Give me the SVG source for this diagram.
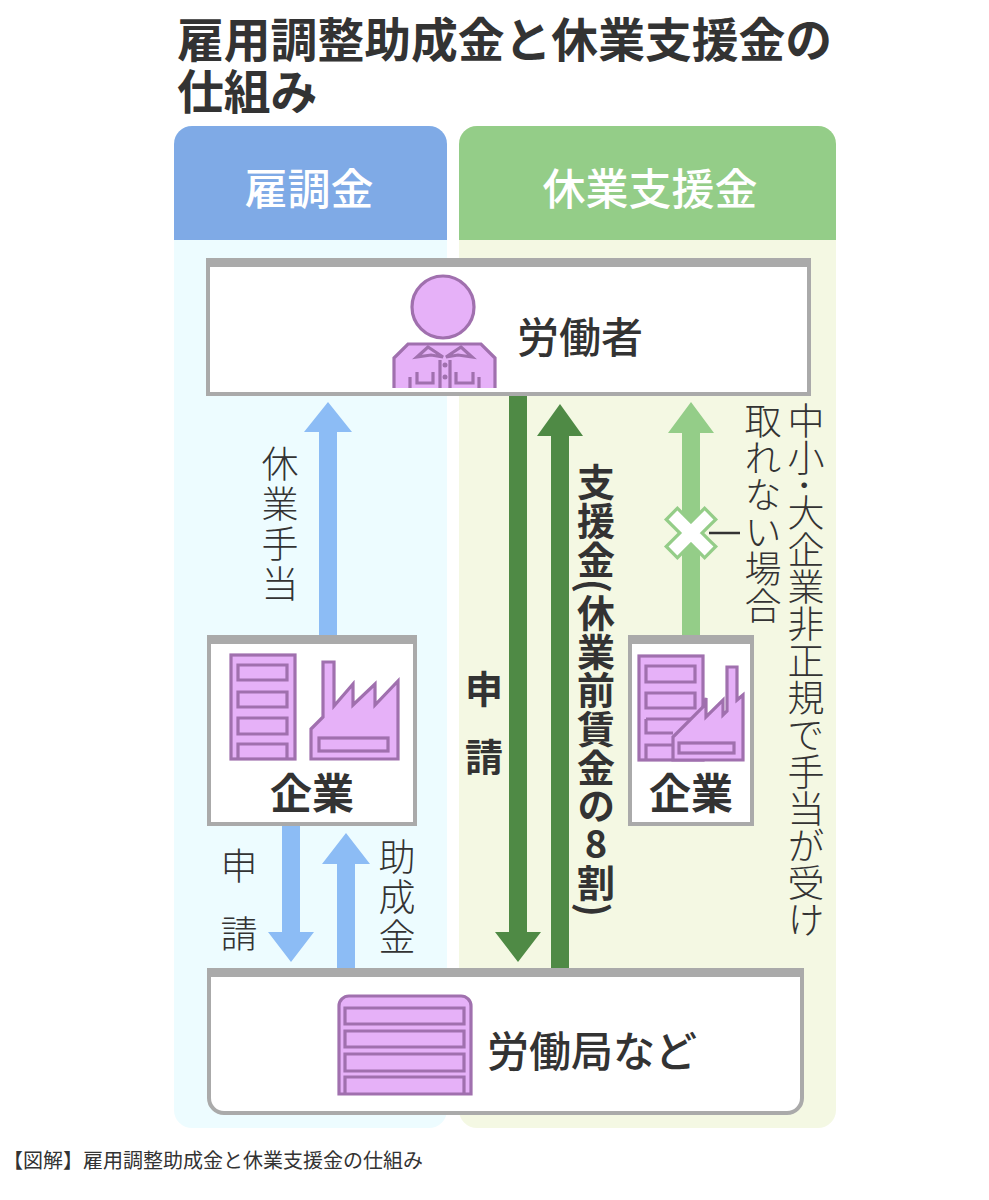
<svg xmlns="http://www.w3.org/2000/svg" width="989" height="1200" viewBox="0 0 989 1200">
<style>
text{font-family:"Noto Sans CJK JP","Noto Sans",sans-serif;fill:#333}
.title{font-size:46.8px;font-weight:700}
.head{font-size:43px;font-weight:500;fill:#fff;text-anchor:middle}
.big{font-size:42px;font-weight:500;text-anchor:middle}
.co{font-size:42px;font-weight:600;text-anchor:middle}
.lab{font-size:37px;font-weight:300;text-anchor:middle}
.bold{font-size:38px;font-weight:700;text-anchor:middle}
.v{writing-mode:vertical-rl;text-anchor:start}
.box{fill:#fff;stroke:#aaa;stroke-width:4}
.bar{fill:#aaa}
.ic{fill:#e6b1f8;stroke:#a070ae;stroke-width:3.2}
.in{fill:none;stroke:#a070ae;stroke-width:3.2}
</style>
<rect width="989" height="1200" fill="#fff"/>
<g id="panels">
<rect x="174" y="126" width="273" height="1002" rx="18" fill="#edfcff"/>
<rect x="459" y="126" width="377" height="1002" rx="18" fill="#f4f8e3"/>
<path d="M174 240V144a18 18 0 0 1 18-18H429a18 18 0 0 1 18 18V240Z" fill="#7faae6"/>
<path d="M459 240V144a18 18 0 0 1 18-18H818a18 18 0 0 1 18 18V240Z" fill="#94cd88"/>
<text class="head" x="309" y="205">雇調金</text>
<text class="head" x="650" y="205">休業支援金</text>
</g>
<g id="connectors">
<path d="M319 636V432H304L328 402L352 432H337V636Z" fill="#8cbcf5"/>
<path d="M282 825V932H268L291 962L314 932H300V825Z" fill="#8cbcf5"/>
<path d="M337 970V864H322L346 833L370 864H355V970Z" fill="#8cbcf5"/>
<path d="M509 395V932H495L518 962L541 932H527V395Z" fill="#4f8a45"/>
<path d="M551 970V436H537L560 404L583 436H569V970Z" fill="#4f8a45"/>
<path d="M682 636V433H668L691 402L714 433H700V636Z" fill="#94cd88"/>
<path d="M709 533H740" stroke="#333" stroke-width="2.5" fill="none"/>
<path d="M677.4 519.4L704.6 546.6M704.6 519.4L677.4 546.6" stroke="#94cd88" stroke-width="19" stroke-linecap="square" fill="none"/>
<path d="M677.4 519.4L704.6 546.6M704.6 519.4L677.4 546.6" stroke="#fff" stroke-width="12.5" stroke-linecap="square" fill="none"/>
</g>
<g id="worker">
<rect class="box" x="208" y="260" width="601" height="134"/>
<rect class="bar" x="206" y="258" width="605" height="9"/>
<circle class="ic" cx="443" cy="307" r="31"/>
<path d="M394 388V358L408 344H481L495 358V388Z" fill="#e6b1f8"/>
<path class="in" d="M394 388V358L408 344H481L495 358V388"/>
<path class="in" d="M417 357L428 347L443 357L431 355ZM472 357L461 347L446 357L458 355ZM440 360V388M450 360V388M410 388V377M479 388V377M417 372V383H433V372M456 372V383H473V372"/>
<circle cx="445" cy="365" r="2.5" fill="#a070ae"/>
<circle cx="445" cy="377" r="2.5" fill="#a070ae"/>
<text class="big" x="580" y="353">労働者</text>
</g>
<g id="company-left">
<rect class="box" x="209" y="637" width="206" height="187"/>
<rect class="bar" x="207" y="635" width="210" height="9"/>
<rect class="ic" x="231" y="655" width="64" height="104"/>
<path class="in" d="M238 665H287V680H238ZM238 692H287V707H238ZM238 718H287V734H238ZM238 759V744H287V759"/>
<path class="ic" d="M323 662H334V706L353 684V705L375 684V705L398 681V759H311V729L323 717Z"/>
<rect class="in" x="319" y="738" width="69" height="13"/>
<text class="co" x="312" y="809">企業</text>
</g>
<g id="company-right">
<rect class="box" x="630" y="637" width="122" height="187"/>
<rect class="bar" x="628" y="635" width="126" height="9"/>
<rect class="ic" x="639" y="656" width="64" height="104"/>
<path class="in" d="M646 666H695V682H646ZM646 693H695V708H646ZM646 719H695M646 719V733H673M646 760V745H673"/>
<path class="ic" d="M673 760V737L703 707L706 698V717L723 700V715L727 711V667H737V700L743 695V760Z"/>
<rect class="in" x="679" y="743" width="55" height="10"/>
<text class="co" x="691" y="809">企業</text>
</g>
<g id="bureau">
<path class="box" d="M209 971H802V1098a15 15 0 0 1-15 15H224a15 15 0 0 1-15-15Z"/>
<rect class="bar" x="207" y="968" width="597" height="9"/>
<path class="ic" d="M339 1094V1006a10 10 0 0 1 10-10H461a10 10 0 0 1 10 10V1094Z"/>
<path class="in" d="M345 1008H464V1024H345ZM345 1031H464V1047H345ZM345 1054H464V1071H345ZM345 1094V1077H464V1094"/>
<text class="big" x="592" y="1067">労働局など</text>
</g>
<g id="labels">
<text class="title"><tspan x="177" y="56.5">雇用調整助成金と休業支援金の</tspan><tspan x="177" y="109">仕組み</tspan></text>
<text class="lab v" x="280" y="445" style="letter-spacing:3px">休業手当</text>
<text class="lab" x="239" y="880">申</text>
<text class="lab" x="239" y="948">請</text>
<text class="lab v" x="397" y="838" style="letter-spacing:3px">助成金</text>
<text class="bold" x="484" y="703">申</text>
<text class="bold" x="484" y="771">請</text>
<text class="bold v" x="596" y="463" style="letter-spacing:.6px">支援金(休業前賃金の<tspan style="text-orientation:upright">8</tspan>割)</text>
<text class="lab v" x="806" y="402">中小･大企業非正規で手当が受け</text>
<text class="lab v" x="763" y="402">取れない場合</text>
<text x="3" y="1168" style="font-size:20px">【図解】雇用調整助成金と休業支援金の仕組み</text>
</g>
</svg>
